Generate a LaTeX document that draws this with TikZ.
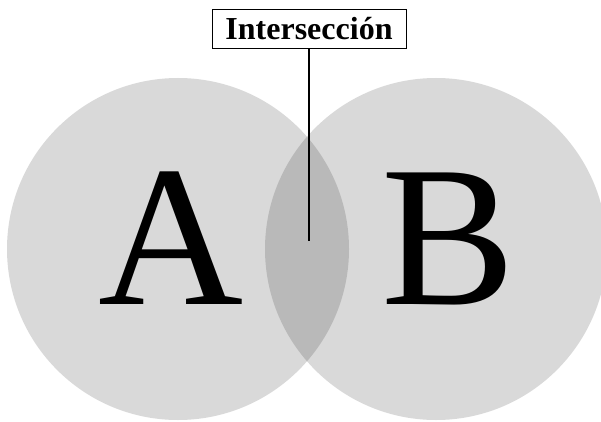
\documentclass[tikz,border=0pt]{standalone}
\usepackage{fontspec}
\setmainfont{Liberation Serif}
\usetikzlibrary{positioning}

\begin{document}
\begin{tikzpicture}[x=1pt, y=1pt,
  set/.style={circle, minimum size=342pt, inner sep=0pt,
              fill=black, fill opacity=0.15, text opacity=1},
  setname/.style={font=\fontsize{201}{201}\selectfont, inner sep=0pt,
                  anchor=base},
  tag/.style={draw, line width=0.8pt, minimum width=194pt,
              minimum height=39pt, inner sep=0pt,
              font=\fontsize{32}{32}\selectfont\bfseries},
  lead/.style={line width=1.2pt}
]
  \useasboundingbox (0,0) rectangle (601,421);
  \node[set] (A) at (178,172) {};
  \node[set] (B) at (436,172) {};
  \node[setname] (la) at (171,117) {A};
  \node[setname] (lb) at (449,117) {B};
  \node[tag] (inter) at (309,392.5) {Intersección};
  \coordinate (tip) at (309,180);
  \draw[lead] (inter.south) -- (tip);
\end{tikzpicture}
\end{document}
